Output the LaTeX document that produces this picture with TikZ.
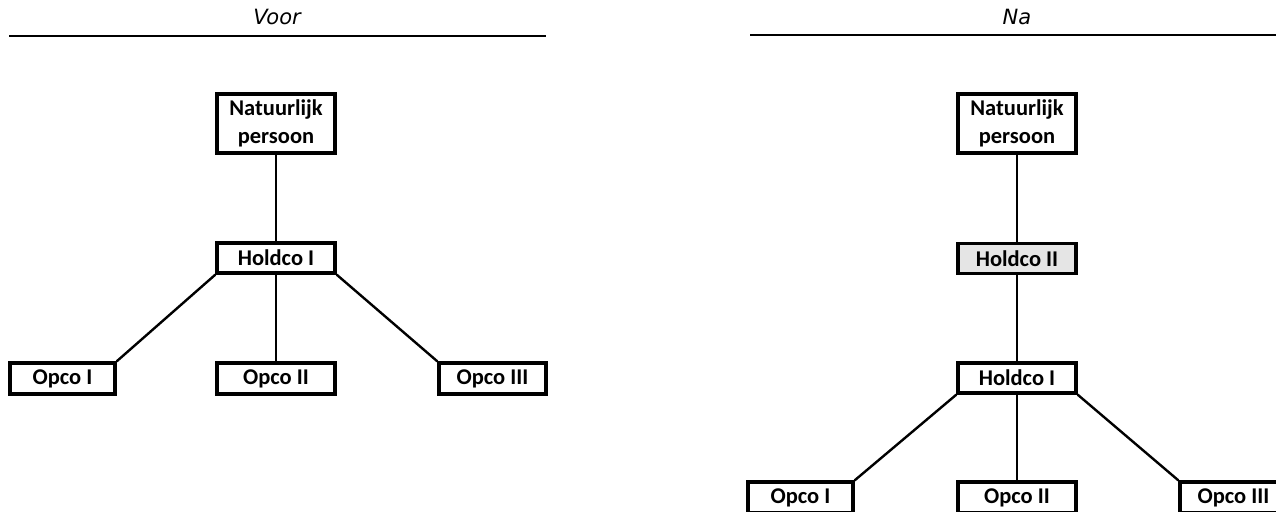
\documentclass[tikz,border=0pt]{standalone}
\usepackage{fontspec}
\setmainfont{Carlito}
\newfontfamily\headfont{DejaVu Sans}
\begin{document}
\begin{tikzpicture}[x=1pt,y=-1pt,
  entity/.style={draw, line width=3.2pt, fill=white, inner sep=0pt,
    font=\bfseries\fontsize{22.5}{28}\selectfont, align=center},
  tallbox/.style={entity, minimum width=118pt, minimum height=59pt},
  flatbox/.style={entity, minimum width=118pt, minimum height=30pt},
  shaded/.style={fill=black!10},
  link/.style={line width=2.4pt},
  rule/.style={line width=2.6pt},
  heading/.style={font=\headfont\itshape\fontsize{21}{24}\selectfont}]
\useasboundingbox (0,0) rectangle (1276,511);
\begin{scope}
\clip (0,0) rectangle (1276,511);

% ---- Voor ----
\node[heading] (voor) at (277,17) {Voor};
\coordinate (vl) at (9,36);
\coordinate (vr) at (546,36);
\draw[rule] (vl) -- (vr);

\node[tallbox] (np1) at (276,123.5) {Natuurlijk\\persoon};
\node[flatbox] (h1) at (276,258) {Holdco I};
\node[flatbox, minimum width=105pt, minimum height=31pt] (a1) at (62.5,378.5) {Opco I};
\node[flatbox, minimum height=31pt] (a2) at (276,378.5) {Opco II};
\node[flatbox, minimum width=107pt, minimum height=31pt] (a3) at (492.5,378.5) {Opco III};

\draw[link] (np1.south) -- (h1.north);
\draw[link] (h1.south west) -- (a1.north east);
\draw[link] (h1.south) -- (a2.north);
\draw[link] (h1.south east) -- (a3.north west);

% ---- Na ----
\node[heading] (na) at (1017,17) {Na};
\coordinate (nl) at (750,35);
\coordinate (nr) at (1290,35);
\draw[rule] (nl) -- (nr);

\node[tallbox] (np2) at (1017,123.5) {Natuurlijk\\persoon};
\node[flatbox, shaded] (h2) at (1017,258.5) {Holdco II};
\node[flatbox] (h3) at (1017,378) {Holdco I};
\node[flatbox, minimum width=105pt, minimum height=31pt] (b1) at (800.5,497.5) {Opco I};
\node[flatbox, minimum height=31pt] (b2) at (1017,497.5) {Opco II};
\node[flatbox, minimum width=107pt, minimum height=31pt] (b3) at (1233.5,497.5) {Opco III};

\draw[link] (np2.south) -- (h2.north);
\draw[link] (h2.south) -- (h3.north);
\draw[link] (h3.south west) -- (b1.north east);
\draw[link] (h3.south) -- (b2.north);
\draw[link] (h3.south east) -- (b3.north west);
\end{scope}
\end{tikzpicture}
\end{document}
